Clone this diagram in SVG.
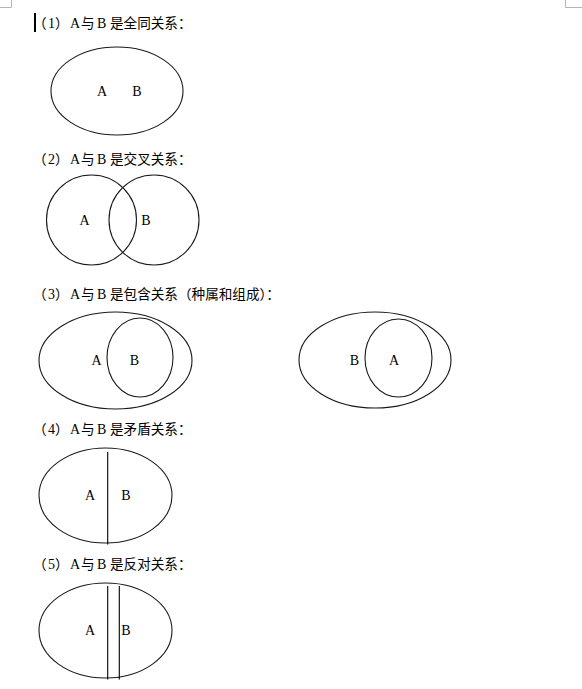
<svg xmlns="http://www.w3.org/2000/svg" width="582" height="689" viewBox="0 0 582 689">
<style>
  .bg { fill: #ffffff; }
  .mark { fill: none; stroke: #b4b4b4; stroke-width: 1; }
  .shape { fill: none; stroke: #1a1a1a; stroke-width: 1.1; }
  .div { stroke: #000000; stroke-width: 1.1; }
  .hd { font-family: "Liberation Serif", "Noto Sans CJK SC", serif; font-size: 14px; fill: #000; }
  .cjk { font-family: "Noto Sans CJK SC", "Liberation Serif", sans-serif; font-size: 13.6px; }
  .lbl { font-family: "Liberation Serif", serif; font-size: 14px; fill: #000; }
</style>
<rect class="bg" x="0" y="0" width="582" height="689"/>

<g id="page-marks">
  <path class="mark" d="M11.5,0 V7.5 H0"/>
  <path class="mark" d="M565.5,0 V7.5 H582"/>
  <rect x="34" y="13" width="2" height="19" fill="#000"/>
</g>

<g id="heading-1">
  <text class="hd" y="28"><tspan class="cjk" x="33">（</tspan><tspan x="48">1</tspan><tspan class="cjk" x="55">）</tspan><tspan x="70">A</tspan><tspan class="cjk" x="81">与</tspan><tspan x="97">B</tspan><tspan class="cjk" x="110">是全同关系：</tspan></text>
</g>
<g id="diagram-1">
  <ellipse class="shape" cx="117" cy="91" rx="66" ry="44"/>
  <text class="lbl" x="102" y="96" text-anchor="middle">A</text>
  <text class="lbl" x="137" y="96" text-anchor="middle">B</text>
</g>

<g id="heading-2">
  <text class="hd" y="164"><tspan class="cjk" x="33">（</tspan><tspan x="48">2</tspan><tspan class="cjk" x="55">）</tspan><tspan x="70">A</tspan><tspan class="cjk" x="81">与</tspan><tspan x="97">B</tspan><tspan class="cjk" x="110">是交叉关系：</tspan></text>
</g>
<g id="diagram-2">
  <circle class="shape" cx="91.5" cy="220" r="45"/>
  <circle class="shape" cx="154" cy="220" r="45"/>
  <text class="lbl" x="84.5" y="225" text-anchor="middle">A</text>
  <text class="lbl" x="146" y="225" text-anchor="middle">B</text>
</g>

<g id="heading-3">
  <text class="hd" y="299"><tspan class="cjk" x="33">（</tspan><tspan x="48">3</tspan><tspan class="cjk" x="55">）</tspan><tspan x="70">A</tspan><tspan class="cjk" x="81">与</tspan><tspan x="97">B</tspan><tspan class="cjk" x="110">是包含关系（种属和组成）：</tspan></text>
</g>
<g id="diagram-3a">
  <ellipse class="shape" cx="115.5" cy="360.5" rx="76.5" ry="48.5"/>
  <ellipse class="shape" cx="140" cy="357.5" rx="33" ry="39.5"/>
  <text class="lbl" x="96.5" y="365" text-anchor="middle">A</text>
  <text class="lbl" x="134.5" y="365" text-anchor="middle">B</text>
</g>
<g id="diagram-3b">
  <ellipse class="shape" cx="375" cy="360" rx="76" ry="48"/>
  <ellipse class="shape" cx="398.5" cy="358" rx="33.5" ry="39"/>
  <text class="lbl" x="354.5" y="365" text-anchor="middle">B</text>
  <text class="lbl" x="394" y="365" text-anchor="middle">A</text>
</g>

<g id="heading-4">
  <text class="hd" y="434"><tspan class="cjk" x="33">（</tspan><tspan x="48">4</tspan><tspan class="cjk" x="55">）</tspan><tspan x="70">A</tspan><tspan class="cjk" x="81">与</tspan><tspan x="97">B</tspan><tspan class="cjk" x="110">是矛盾关系：</tspan></text>
</g>
<g id="diagram-4">
  <ellipse class="shape" cx="105.5" cy="495.5" rx="66.5" ry="47.5"/>
  <line class="div" x1="107.7" y1="452" x2="107.7" y2="544.5"/>
  <text class="lbl" x="90" y="500" text-anchor="middle">A</text>
  <text class="lbl" x="126" y="500" text-anchor="middle">B</text>
</g>

<g id="heading-5">
  <text class="hd" y="569"><tspan class="cjk" x="33">（</tspan><tspan x="48">5</tspan><tspan class="cjk" x="55">）</tspan><tspan x="70">A</tspan><tspan class="cjk" x="81">与</tspan><tspan x="97">B</tspan><tspan class="cjk" x="110">是反对关系：</tspan></text>
</g>
<g id="diagram-5">
  <ellipse class="shape" cx="105.5" cy="630.5" rx="66.5" ry="47.5"/>
  <line class="div" x1="107.7" y1="586" x2="107.7" y2="679.5"/>
  <line class="div" x1="119.3" y1="586" x2="119.3" y2="679.5"/>
  <text class="lbl" x="90" y="635" text-anchor="middle">A</text>
  <text class="lbl" x="126" y="635" text-anchor="middle">B</text>
</g>

<g id="connectors"/>
</svg>
